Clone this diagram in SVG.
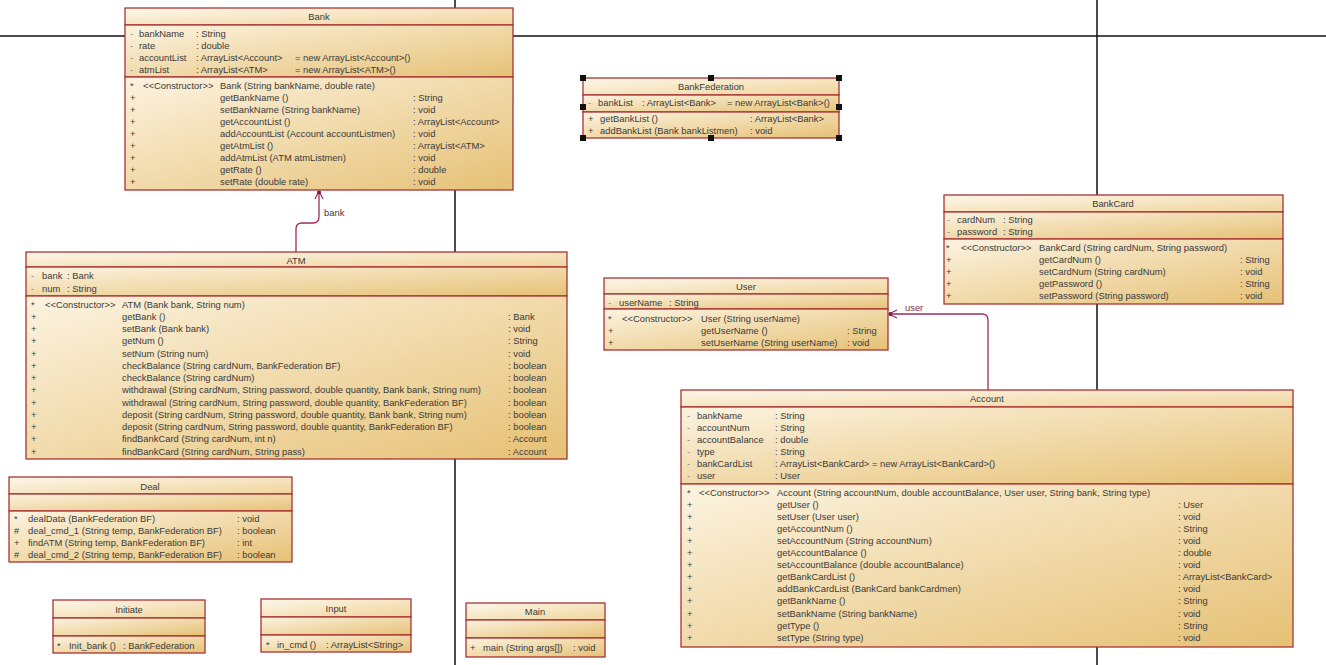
<svg xmlns="http://www.w3.org/2000/svg" width="1326" height="665" viewBox="0 0 1326 665">
<style>
.bg{stroke:#111;stroke-width:1.5;fill:none}
.c{stroke:#a83434;stroke-width:1.3}
.h{fill:url(#gh)}
.b{fill:url(#gb)}
text{font-family:"Liberation Sans",Arial,sans-serif;font-size:9.4px;fill:#3a3a3a}
.t{text-anchor:middle}
.s{fill:#888}
.cn{fill:none;stroke:#9b2c62;stroke-width:1.3}
.hd{fill:#111}
</style>
<defs>
<linearGradient id="gh" x1="0" y1="0" x2="1" y2="1"><stop offset="0" stop-color="#fdf7ea"/><stop offset="1" stop-color="#f0d49c"/></linearGradient>
<linearGradient id="gb" x1="0" y1="0" x2="1" y2="1"><stop offset="0" stop-color="#fcf3e0"/><stop offset="1" stop-color="#e6c175"/></linearGradient>
<marker id="arr" viewBox="-9 -5 10 10" refX="0" refY="0" markerWidth="10" markerHeight="10" markerUnits="userSpaceOnUse" orient="auto">
<path d="M-8,-4 L0,0 L-8,4" fill="none" stroke="#9b2c62" stroke-width="1.2"/>
<rect x="-3" y="-1.8" width="3" height="3.6" fill="#7a1e48"/>
</marker>
</defs>
<rect x="0" y="0" width="1326" height="665" fill="#fff"/>
<g id="background-lines">
<line class="bg" x1="0" y1="36" x2="1326" y2="36"/>
<line class="bg" x1="455" y1="0" x2="455" y2="665"/>
<line class="bg" x1="1097" y1="0" x2="1097" y2="665"/>
</g>
<g id="connectors">
<path class="cn" d="M296,252 L296,229 Q296,223 302,223 L313,223 Q319,223 319,217 L319,191" marker-end="url(#arr)"/>
<text x="324" y="216">bank</text>
<path class="cn" d="M988,390 L988,320 Q988,314 982,314 L889,314" marker-end="url(#arr)"/>
<text x="905" y="311" style="fill:#7a3050">user</text>
</g>
<g id="Bank">
<rect class="c h" x="125" y="8" width="388" height="17"/>
<rect class="c b" x="125" y="25" width="388" height="52"/>
<rect class="c b" x="125" y="77" width="388" height="113"/>
<text class="t" x="319" y="20">Bank</text>
<text class="s" x="130" y="36.5">-</text><text x="139" y="36.5">bankName</text><text x="196" y="36.5">: String</text>
<text class="s" x="130" y="48.5">-</text><text x="139" y="48.5">rate</text><text x="196" y="48.5">: double</text>
<text class="s" x="130" y="60.5">-</text><text x="139" y="60.5">accountList</text><text x="196" y="60.5">: ArrayList&lt;Account&gt;</text><text x="295" y="60.5">= new ArrayList&lt;Account&gt;()</text>
<text class="s" x="130" y="72.5">-</text><text x="139" y="72.5">atmList</text><text x="196" y="72.5">: ArrayList&lt;ATM&gt;</text><text x="295" y="72.5">= new ArrayList&lt;ATM&gt;()</text>
<text x="130" y="88.5">*</text><text x="143" y="88.5">&lt;&lt;Constructor&gt;&gt;</text><text x="220" y="88.5">Bank (String bankName, double rate)</text>
<text x="130" y="100.6">+</text><text x="220" y="100.6">getBankName ()</text><text x="413" y="100.6">: String</text>
<text x="130" y="112.7">+</text><text x="220" y="112.7">setBankName (String bankName)</text><text x="413" y="112.7">: void</text>
<text x="130" y="124.8">+</text><text x="220" y="124.8">getAccountList ()</text><text x="413" y="124.8">: ArrayList&lt;Account&gt;</text>
<text x="130" y="136.9">+</text><text x="220" y="136.9">addAccountList (Account accountListmen)</text><text x="413" y="136.9">: void</text>
<text x="130" y="149">+</text><text x="220" y="149">getAtmList ()</text><text x="413" y="149">: ArrayList&lt;ATM&gt;</text>
<text x="130" y="161.1">+</text><text x="220" y="161.1">addAtmList (ATM atmListmen)</text><text x="413" y="161.1">: void</text>
<text x="130" y="173.2">+</text><text x="220" y="173.2">getRate ()</text><text x="413" y="173.2">: double</text>
<text x="130" y="185.3">+</text><text x="220" y="185.3">setRate (double rate)</text><text x="413" y="185.3">: void</text>
</g>
<g id="BankFederation">
<rect class="c h" x="583" y="78" width="256" height="17"/>
<rect class="c b" x="583" y="95" width="256" height="17"/>
<rect class="c b" x="583" y="112" width="256" height="26"/>
<text class="t" x="711" y="90">BankFederation</text>
<text class="s" x="588" y="105.5">-</text><text x="598" y="105.5">bankList</text><text x="642" y="105.5">: ArrayList&lt;Bank&gt;</text><text x="727" y="105.5">= new ArrayList&lt;Bank&gt;()</text>
<text x="588" y="121.5">+</text><text x="600" y="121.5">getBankList ()</text><text x="750" y="121.5">: ArrayList&lt;Bank&gt;</text>
<text x="588" y="133.5">+</text><text x="600" y="133.5">addBankList (Bank bankListmen)</text><text x="750" y="133.5">: void</text>
<rect class="hd" x="580" y="75" width="6" height="6"/>
<rect class="hd" x="708" y="75" width="6" height="6"/>
<rect class="hd" x="836" y="75" width="6" height="6"/>
<rect class="hd" x="580" y="104" width="6" height="6"/>
<rect class="hd" x="836" y="104" width="6" height="6"/>
<rect class="hd" x="580" y="135" width="6" height="6"/>
<rect class="hd" x="708" y="135" width="6" height="6"/>
<rect class="hd" x="836" y="135" width="6" height="6"/>
</g>
<g id="BankCard">
<rect class="c h" x="944" y="195" width="339" height="17"/>
<rect class="c b" x="944" y="212" width="339" height="27"/>
<rect class="c b" x="944" y="239" width="339" height="65"/>
<text class="t" x="1113" y="206.5">BankCard</text>
<text class="s" x="947" y="222.5">-</text><text x="957" y="222.5">cardNum</text><text x="1003" y="222.5">: String</text>
<text class="s" x="947" y="235">-</text><text x="957" y="235">password</text><text x="1003" y="235">: String</text>
<text x="946" y="250.5">*</text><text x="961" y="250.5">&lt;&lt;Constructor&gt;&gt;</text><text x="1039" y="250.5">BankCard (String cardNum, String password)</text>
<text x="946" y="262.7">+</text><text x="1039" y="262.7">getCardNum ()</text><text x="1240" y="262.7">: String</text>
<text x="946" y="274.9">+</text><text x="1039" y="274.9">setCardNum (String cardNum)</text><text x="1240" y="274.9">: void</text>
<text x="946" y="287.1">+</text><text x="1039" y="287.1">getPassword ()</text><text x="1240" y="287.1">: String</text>
<text x="946" y="299.3">+</text><text x="1039" y="299.3">setPassword (String password)</text><text x="1240" y="299.3">: void</text>
</g>
<g id="User">
<rect class="c h" x="604" y="278" width="284" height="16"/>
<rect class="c b" x="604" y="294" width="284" height="15"/>
<rect class="c b" x="604" y="309" width="284" height="41"/>
<text class="t" x="746" y="289.5">User</text>
<text class="s" x="608" y="305.5">-</text><text x="619" y="305.5">userName</text><text x="669" y="305.5">: String</text>
<text x="608" y="321.5">*</text><text x="622" y="321.5">&lt;&lt;Constructor&gt;&gt;</text><text x="701" y="321.5">User (String userName)</text>
<text x="608" y="333.5">+</text><text x="701" y="333.5">getUserName ()</text><text x="847" y="333.5">: String</text>
<text x="608" y="345.5">+</text><text x="701" y="345.5">setUserName (String userName)</text><text x="847" y="345.5">: void</text>
</g>
<g id="ATM">
<rect class="c h" x="26" y="252" width="541" height="15"/>
<rect class="c b" x="26" y="267" width="541" height="29"/>
<rect class="c b" x="26" y="296" width="541" height="163"/>
<text class="t" x="296" y="263.5">ATM</text>
<text class="s" x="31" y="278.5">-</text><text x="42" y="278.5">bank</text><text x="67" y="278.5">: Bank</text>
<text class="s" x="31" y="292">-</text><text x="42" y="292">num</text><text x="67" y="292">: String</text>
<text x="31" y="307.5">*</text><text x="45" y="307.5">&lt;&lt;Constructor&gt;&gt;</text><text x="122" y="307.5">ATM (Bank bank, String num)</text>
<text x="31" y="319.8">+</text><text x="122" y="319.8">getBank ()</text><text x="508" y="319.8">: Bank</text>
<text x="31" y="332">+</text><text x="122" y="332">setBank (Bank bank)</text><text x="508" y="332">: void</text>
<text x="31" y="344.3">+</text><text x="122" y="344.3">getNum ()</text><text x="508" y="344.3">: String</text>
<text x="31" y="356.5">+</text><text x="122" y="356.5">setNum (String num)</text><text x="508" y="356.5">: void</text>
<text x="31" y="368.8">+</text><text x="122" y="368.8">checkBalance (String cardNum, BankFederation BF)</text><text x="508" y="368.8">: boolean</text>
<text x="31" y="381">+</text><text x="122" y="381">checkBalance (String cardNum)</text><text x="508" y="381">: boolean</text>
<text x="31" y="393.3">+</text><text x="122" y="393.3">withdrawal (String cardNum, String password, double quantity, Bank bank, String num)</text><text x="508" y="393.3">: boolean</text>
<text x="31" y="405.5">+</text><text x="122" y="405.5">withdrawal (String cardNum, String password, double quantity, BankFederation BF)</text><text x="508" y="405.5">: boolean</text>
<text x="31" y="417.8">+</text><text x="122" y="417.8">deposit (String cardNum, String password, double quantity, Bank bank, String num)</text><text x="508" y="417.8">: boolean</text>
<text x="31" y="430">+</text><text x="122" y="430">deposit (String cardNum, String password, double quantity, BankFederation BF)</text><text x="508" y="430">: boolean</text>
<text x="31" y="442.3">+</text><text x="122" y="442.3">findBankCard (String cardNum, int n)</text><text x="508" y="442.3">: Account</text>
<text x="31" y="454.5">+</text><text x="122" y="454.5">findBankCard (String cardNum, String pass)</text><text x="508" y="454.5">: Account</text>
</g>
<g id="Deal">
<rect class="c h" x="9" y="477" width="283" height="17"/>
<rect class="c b" x="9" y="494" width="283" height="17"/>
<rect class="c b" x="9" y="511" width="283" height="51"/>
<text class="t" x="150" y="489.5">Deal</text>
<text x="14" y="521.5">*</text><text x="28" y="521.5">dealData (BankFederation BF)</text><text x="237" y="521.5">: void</text>
<text x="14" y="533.5">#</text><text x="28" y="533.5">deal_cmd_1 (String temp, BankFederation BF)</text><text x="237" y="533.5">: boolean</text>
<text x="14" y="545.5">+</text><text x="28" y="545.5">findATM (String temp, BankFederation BF)</text><text x="237" y="545.5">: int</text>
<text x="14" y="558">#</text><text x="28" y="558">deal_cmd_2 (String temp, BankFederation BF)</text><text x="237" y="558">: boolean</text>
</g>
<g id="Initiate">
<rect class="c h" x="53" y="600" width="152" height="18"/>
<rect class="c b" x="53" y="618" width="152" height="18"/>
<rect class="c b" x="53" y="636" width="152" height="17"/>
<text class="t" x="129" y="612.5">Initiate</text>
<text x="57" y="648.5">*</text><text x="69" y="648.5">Init_bank ()</text><text x="123" y="648.5">: BankFederation</text>
</g>
<g id="Input">
<rect class="c h" x="261" y="599" width="150" height="18"/>
<rect class="c b" x="261" y="617" width="150" height="18"/>
<rect class="c b" x="261" y="635" width="150" height="17"/>
<text class="t" x="336" y="611.5">Input</text>
<text x="266" y="647.5">*</text><text x="277" y="647.5">in_cmd ()</text><text x="326" y="647.5">: ArrayList&lt;String&gt;</text>
</g>
<g id="Main">
<rect class="c h" x="466" y="603" width="139" height="17"/>
<rect class="c b" x="466" y="620" width="139" height="18"/>
<rect class="c b" x="466" y="638" width="139" height="19"/>
<text class="t" x="535" y="615">Main</text>
<text x="470" y="651">+</text><text x="483" y="651">main (String args[])</text><text x="573" y="651">: void</text>
</g>
<g id="Account">
<rect class="c h" x="681" y="390" width="612" height="17"/>
<rect class="c b" x="681" y="407" width="612" height="77"/>
<rect class="c b" x="681" y="484" width="612" height="163"/>
<text class="t" x="987" y="402">Account</text>
<text class="s" x="687" y="418.5">-</text><text x="697" y="418.5">bankName</text><text x="775" y="418.5">: String</text>
<text class="s" x="687" y="430.6">-</text><text x="697" y="430.6">accountNum</text><text x="775" y="430.6">: String</text>
<text class="s" x="687" y="442.7">-</text><text x="697" y="442.7">accountBalance</text><text x="775" y="442.7">: double</text>
<text class="s" x="687" y="454.8">-</text><text x="697" y="454.8">type</text><text x="775" y="454.8">: String</text>
<text class="s" x="687" y="466.9">-</text><text x="697" y="466.9">bankCardList</text><text x="775" y="466.9">: ArrayList&lt;BankCard&gt;</text><text x="872" y="466.9">= new ArrayList&lt;BankCard&gt;()</text>
<text class="s" x="687" y="479">-</text><text x="697" y="479">user</text><text x="775" y="479">: User</text>
<text x="687" y="495.5">*</text><text x="699" y="495.5">&lt;&lt;Constructor&gt;&gt;</text><text x="777" y="495.5">Account (String accountNum, double accountBalance, User user, String bank, String type)</text>
<text x="687" y="507.6">+</text><text x="777" y="507.6">getUser ()</text><text x="1178" y="507.6">: User</text>
<text x="687" y="519.7">+</text><text x="777" y="519.7">setUser (User user)</text><text x="1178" y="519.7">: void</text>
<text x="687" y="531.8">+</text><text x="777" y="531.8">getAccountNum ()</text><text x="1178" y="531.8">: String</text>
<text x="687" y="543.9">+</text><text x="777" y="543.9">setAccountNum (String accountNum)</text><text x="1178" y="543.9">: void</text>
<text x="687" y="556">+</text><text x="777" y="556">getAccountBalance ()</text><text x="1178" y="556">: double</text>
<text x="687" y="568.1">+</text><text x="777" y="568.1">setAccountBalance (double accountBalance)</text><text x="1178" y="568.1">: void</text>
<text x="687" y="580.2">+</text><text x="777" y="580.2">getBankCardList ()</text><text x="1178" y="580.2">: ArrayList&lt;BankCard&gt;</text>
<text x="687" y="592.3">+</text><text x="777" y="592.3">addBankCardList (BankCard bankCardmen)</text><text x="1178" y="592.3">: void</text>
<text x="687" y="604.4">+</text><text x="777" y="604.4">getBankName ()</text><text x="1178" y="604.4">: String</text>
<text x="687" y="616.5">+</text><text x="777" y="616.5">setBankName (String bankName)</text><text x="1178" y="616.5">: void</text>
<text x="687" y="628.6">+</text><text x="777" y="628.6">getType ()</text><text x="1178" y="628.6">: String</text>
<text x="687" y="640.7">+</text><text x="777" y="640.7">setType (String type)</text><text x="1178" y="640.7">: void</text>
</g>
</svg>
